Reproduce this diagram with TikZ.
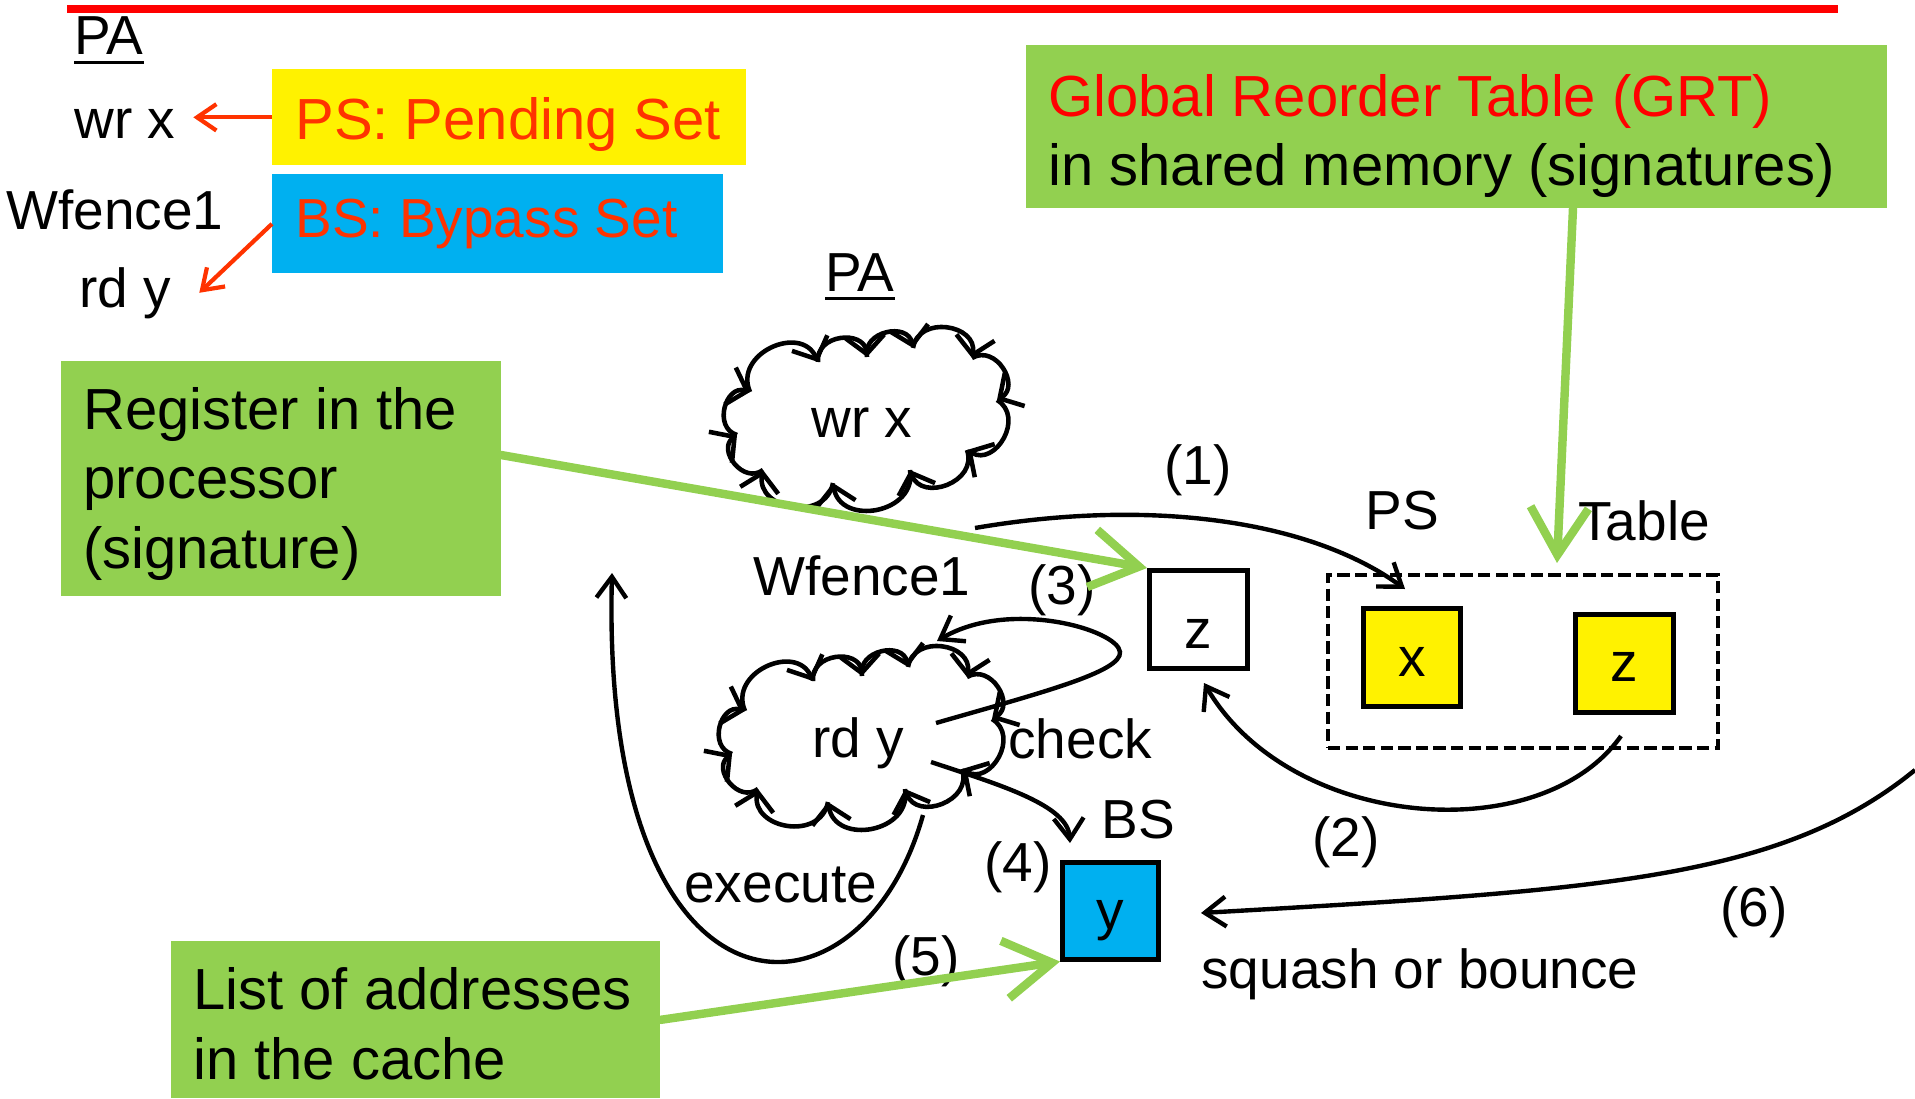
\documentclass[tikz,border=0pt]{standalone}
\usepackage{fontspec}
\setmainfont{Liberation Sans}
\usetikzlibrary{arrows.meta}

\definecolor{notegreen}{HTML}{92D050}
\definecolor{setblue}{HTML}{00B0F0}
\definecolor{setred}{HTML}{FF3300}

\begin{document}
\begin{tikzpicture}[x=0.02cm, y=-0.02cm, every node/.style={inner sep=0pt},
txt/.style={font=\fontsize{31.3}{37}\selectfont},
note/.style={font=\fontsize{33}{39.5}\selectfont, align=left},
notebox/.style={rectangle, fill=notegreen, anchor=north west},
cell/.style={rectangle, draw, line width=2.6pt, anchor=north west, minimum width=1.96cm, minimum height=1.96cm, text depth=0pt, font=\fontsize{31.3}{37}\selectfont},
flow/.style={line width=2.5pt, -{Straight Barb[length=12pt, width=17pt]}},
hint/.style={line width=4.8pt, line cap=round, notegreen, -{Straight Barb[length=27pt, width=33pt]}},
pointer/.style={line width=2.4pt, setred, -{Straight Barb[length=11pt, width=15pt]}},
puff/.style={line width=2.6pt, -{Straight Barb[length=10pt, width=22pt]}}]

\useasboundingbox (0,0) rectangle (1915,1098);
\draw[red, line width=4.5pt] (67,9) -- (1838,9);

\node[txt, anchor=base] (pa1) at (109,55) {PA};
\draw[line width=1.7pt] ([yshift=-4.5pt]pa1.base west) -- ([yshift=-4.5pt]pa1.base east);
\node[txt, anchor=base, inner xsep=10pt] (wrx1) at (125,139) {wr x};
\node[txt, anchor=base west] (wf1) at (6,229) {Wfence1};
\node[txt, anchor=base, inner xsep=16pt] (rdy1) at (125,307) {rd y};

\node[notebox, fill=yellow, minimum width=9.48cm, minimum height=1.92cm] (psbox) at (272,69) {};
\node[font=\fontsize{33}{39.5}\selectfont, text=setred, anchor=base west] (pstxt) at (295,140) {PS: Pending Set};
\node[notebox, fill=setblue, minimum width=9.02cm, minimum height=1.98cm] (bsbox) at (272,174) {};
\node[txt, text=setred, anchor=base west] (bstxt) at (295,237) {BS: Bypass Set};
\draw[pointer] (psbox.west) -- (psbox.west -| wrx1.east);
\draw[pointer] (bsbox.west) -- (rdy1.east);

\node[notebox, minimum width=17.22cm, minimum height=3.26cm] (grtbox) at (1026,45) {};
\node[note, anchor=base west] (grttxt) at (1048,186) {\textcolor{red}{Global Reorder Table (GRT)}\\in shared memory (signatures)};
\node[notebox, minimum width=8.8cm, minimum height=4.7cm] (regbox) at (61,361) {};
\node[note, anchor=base west] (regtxt) at (83,568) {Register in the\\processor\\(signature)};
\node[notebox, minimum width=9.78cm, minimum height=3.14cm] (listbox) at (171,941) {};
\node[note, anchor=base west] (listtxt) at (193,1079) {List of addresses\\in the cache};

\node[txt, anchor=base] (pa2) at (860,291) {PA};
\draw[line width=1.7pt] ([yshift=-4.5pt]pa2.base west) -- ([yshift=-4.5pt]pa2.base east);

\foreach \cx/\cy in {862/418, 857/737}
  \foreach \ax/\ay/\bx/\by in {-112/-26/-44/-56, -44/-56/5/-61, 5/-61/51/-70, 51/-70/110/-60,
      110/-60/135/-18, 135/-18/105/32, 105/32/48/52, 48/52/-29/65, -29/65/-99/52,
      -99/52/-125/17, -125/17/-112/-26}
    \draw[puff, shift={(\cx,\cy)}] (\ax,\ay) to[bend left=90, looseness=1.45] (\bx,\by);
\node[txt, anchor=base] (wrx2) at (862,437) {wr x};
\node[txt, anchor=base] (rdy2) at (858,757) {rd y};
\node[txt, anchor=base west] (wf2) at (753,595) {Wfence1};

\node[cell, fill=white, text height=33pt] (zbox) at (1147,568) {z};
\node[draw, line width=2.3pt, dash pattern=on 7pt off 3pt, anchor=north west, minimum width=7.8cm, minimum height=3.46cm] (tabbox) at (1326,573) {};
\node[cell, fill=yellow, minimum width=1.94cm, text height=21.6pt] (xbox) at (1361,606) {x};
\node[cell, fill=yellow, text height=20.5pt] (tzbox) at (1573,612) {z};
\node[cell, fill=setblue, minimum width=1.92cm, minimum height=1.94cm, text height=21pt] (ybox) at (1060,860) {y};

\node[txt, anchor=base west] (l1) at (1164,484) {(1)};
\node[txt, anchor=base west] (l2) at (1312,856) {(2)};
\node[txt, anchor=base west] (l3) at (1028,604) {(3)};
\node[txt, anchor=base west] (l4) at (984,881) {(4)};
\node[txt, anchor=base west] (l5) at (892,975) {(5)};
\node[txt, anchor=base west] (l6) at (1720,926) {(6)};
\node[txt, anchor=base west] (pslbl) at (1365,529) {PS};
\node[txt, anchor=base west] (tablbl) at (1578,540) {Table};
\node[txt, anchor=base west] (bslbl) at (1101,838) {BS};
\node[txt, anchor=base west] (chk) at (1008,758) {check};
\node[txt, anchor=base west] (exe) at (684,902) {execute};
\node[txt, anchor=base west] (sq) at (1201,988) {squash or bounce};

\coordinate (c1s) at (975,528);
\coordinate (c1e) at (1405,589);
\coordinate (c2s) at (1621,736);
\coordinate (c2e) at (1204,683);
\coordinate (c3s) at (936,723);
\coordinate (c3e) at (937,641);
\coordinate (c4s) at (931,762);
\coordinate (c4e) at (1070,843);
\coordinate (c5s) at (923,815);
\coordinate (c5e) at (612,573);
\coordinate (c6s) at (1915,770);
\coordinate (c6e) at (1201,913);

\draw[flow] (c1s) .. controls (1150,498) and (1310,520) .. (c1e);
\draw[flow] (c2s) .. controls (1540,850) and (1290,830) .. (c2e);
\draw[flow] (c3s) .. controls (1040,693) and (1122,672) .. (1120,652) .. controls (1118,630) and (1010,598) .. (c3e);
\draw[flow] (c4s) .. controls (1000,785) and (1068,805) .. (c4e);
\draw[flow] (c5s) .. controls (860,1040) and (600,1040) .. (c5e);
\draw[flow] (c6s) .. controls (1780,880) and (1600,890) .. (c6e);

\coordinate (regout) at (501,455);
\coordinate (grtout) at (1573,208);
\coordinate (grtin) at (1557,563);
\draw[hint] (regout) -- (zbox.north west);
\draw[hint] (listbox.east) -- (ybox.south west);
\draw[hint] (grtout) -- (grtin);

\end{tikzpicture}
\end{document}
